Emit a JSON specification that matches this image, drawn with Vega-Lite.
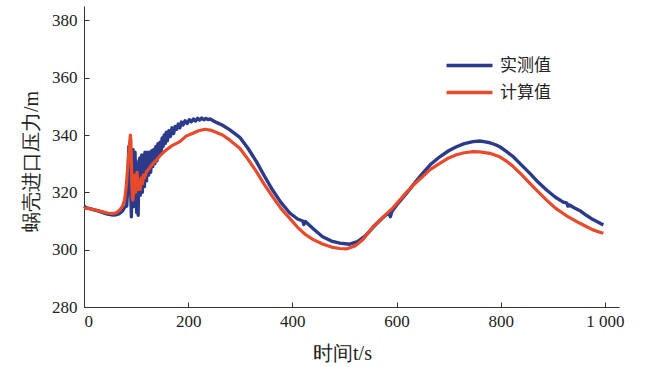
{
  "$schema": "https://vega.github.io/schema/vega-lite/v6.json",
  "width": 535,
  "height": 301,
  "autosize": "none",
  "padding": {"left": 84, "top": 6, "right": 31, "bottom": 60},
  "background": "white",
  "config": {
    "view": {"stroke": null},
    "font": "serif"
  },
  "datasets": {
    "blue": [
      [0,315.2],[5,314.6],[10,314.4],[17,314.0],[25,313.6],[36,312.9],[45,312.4],[56,312.1],[62,312.2],[68,312.6],[74,313.5],[78,314.8],[82,315.2],[84,322],[86,336],[88,330],[90,318],[91,311.5],[92,334],[93,322],[94,335],[95,315],[96,333],[97,320],[98,334],[99,317],[100,331],[101,313],[102,329],[103,318],[104,312],[105,330],[106,321],[107,332],[108,319],[109,331],[110,322],[111,333],[112,320],[113,332],[114,324],[115,333],[116,322],[117,334],[118,325],[119,333],[120,324],[122,334],[124,326],[126,334],[128,327],[130,334.5],[132,329],[134,335],[136,330],[138,336],[140,331],[142,337],[144,333],[146,337.5],[148,334],[150,339],[152,336],[154,340],[156,337],[158,341],[160,338],[163,341.5],[166,339.5],[169,342.5],[172,340.5],[175,343],[178,342],[181,343.8],[184,342.5],[187,344.5],[190,343.5],[194,345],[198,344],[202,345.3],[206,344.6],[210,345.6],[214,344.9],[218,345.8],[222,345.2],[226,345.9],[230,345.3],[234,345.8],[238,345.4],[242,345.6],[248,345],[255,344.3],[266,343.4],[280,341.8],[299,339.2],[315,335.3],[331,330.7],[346,325.8],[362,320.8],[378,316.5],[395,312.8],[410,310.7],[420,310],[422,308.8],[425,309.8],[440,307.3],[458,304.5],[475,303],[491,302.3],[510,301.9],[525,302.8],[540,304.8],[555,307.8],[570,310.5],[585,313],[588,311.5],[591,313.3],[600,315.5],[619,319.6],[635,323.3],[650,326.6],[665,329.7],[683,332.4],[700,334.5],[715,335.9],[730,337],[747,337.7],[760,337.9],[770,337.6],[779,337.3],[790,336.6],[798,335.9],[810,334.4],[824,332.4],[840,329.5],[856,326.6],[872,323.5],[888,320.8],[905,318.3],[920,316.6],[927,316.2],[929,315.2],[932,315.6],[940,314.7],[952,313.6],[965,311.9],[977,310.5],[990,309.3],[997,308.6]
    ],
    "red": [
      [0,314.5],[10,314.3],[17,314.1],[25,313.7],[36,313.2],[45,312.8],[56,312.6],[62,312.9],[68,313.7],[74,315.2],[78,317.3],[81,322],[84,329],[87,336],[89,340],[90,338],[91,330],[92,322],[93,318],[94,317.3],[95,320],[96,324],[97,326],[98,323],[99,320],[100,322],[101,325.5],[102,327],[103,324],[104,321],[106,324],[108,321],[110,325],[112,323],[114,326],[116,325],[120,327.2],[125,328.3],[130,329.6],[139,331.3],[148,333.2],[158,334.8],[170,336.4],[184,337.7],[196,339.6],[209,340.6],[220,341.5],[232,342],[245,341.6],[266,340],[280,338.2],[299,335.4],[315,331.5],[331,327.2],[346,322.8],[362,318.5],[378,314.4],[395,310.9],[410,307.8],[425,305.3],[440,303.5],[458,302],[475,300.9],[491,300.4],[505,300.3],[520,301.3],[535,303.5],[555,308],[575,311.5],[593,314.6],[606,317.3],[619,320],[635,323],[650,325.5],[665,328],[683,330.1],[700,332],[715,333.1],[730,333.8],[747,334.2],[760,334.1],[779,333.6],[798,332.4],[810,331],[824,329],[840,326.2],[856,323.1],[872,320.2],[888,317.3],[905,314.5],[929,311.5],[952,309.2],[965,308],[977,306.9],[990,306.1],[997,305.7]
    ]
  },
  "layer": [
    {
      "data": {"name": "blue"},
      "transform": [
        {"calculate": "datum[0]", "as": "t"},
        {"calculate": "datum[1]", "as": "p"},
        {"calculate": "'实测值'", "as": "series"}
      ],
      "mark": {"type": "line", "strokeWidth": 3.4, "strokeJoin": "round"},
      "encoding": {
        "x": {"field": "t", "type": "quantitative"},
        "y": {"field": "p", "type": "quantitative"},
        "color": {"field": "series", "type": "nominal"}
      }
    },
    {
      "data": {"name": "red"},
      "transform": [
        {"calculate": "datum[0]", "as": "t"},
        {"calculate": "datum[1]", "as": "p"},
        {"calculate": "'计算值'", "as": "series"}
      ],
      "mark": {"type": "line", "strokeWidth": 3.2, "strokeJoin": "round"},
      "encoding": {
        "x": {"field": "t", "type": "quantitative"},
        "y": {"field": "p", "type": "quantitative"},
        "color": {"field": "series", "type": "nominal"}
      }
    }
  ],
  "resolve": {"scale": {"x": "shared", "y": "shared", "color": "shared"}},
  "encoding": {
    "x": {
      "field": "t", "type": "quantitative",
      "scale": {"domain": [0, 1027], "nice": false, "zero": false},
      "axis": {
        "title": "时间t/s", "values": [0, 200, 400, 600, 800, 1000],
        "labelExpr": "datum.value == 1000 ? '1 000' : datum.label",
        "grid": false, "tickSize": -5, "labelPadding": 11,
        "labelFontSize": 17, "labelColor": "#222", "labelFont": "serif",
        "domainColor": "#333", "tickColor": "#333",
        "titleFontSize": 20, "titleFontWeight": "normal", "titleColor": "#222",
        "titleFont": "serif",
        "titleX": 258, "titleY": 46, "titleBaseline": "middle", "titleAnchor": null, "titleAlign": "center"
      }
    },
    "y": {
      "field": "p", "type": "quantitative",
      "scale": {"domain": [280, 385], "nice": false, "zero": false},
      "axis": {
        "title": "蜗壳进口压力/m", "values": [280, 300, 320, 340, 360, 380],
        "grid": false, "tickSize": -5, "labelPadding": 12,
        "labelFontSize": 17, "labelColor": "#222", "labelFont": "serif",
        "domainColor": "#333", "tickColor": "#333",
        "titleFontSize": 20, "titleFontWeight": "normal", "titleColor": "#222",
        "titleFont": "serif",
        "titleX": -53, "titleY": 155, "titleAngle": -90, "titleAlign": "center", "titleBaseline": "middle"
      }
    },
    "color": {
      "field": "series", "type": "nominal",
      "scale": {"domain": ["实测值", "计算值"], "range": ["#2c3a8c", "#e84a2a"]},
      "legend": {
        "title": null, "orient": "none", "legendX": 376, "legendY": 50,
        "symbolType": "M-3,0H3", "symbolSize": 235, "symbolStrokeWidth": 3.4,
        "rowPadding": 9, "labelFontSize": 17, "labelFont": "Noto Sans CJK SC",
        "labelColor": "#222", "labelOffset": 21
      }
    }
  }
}
